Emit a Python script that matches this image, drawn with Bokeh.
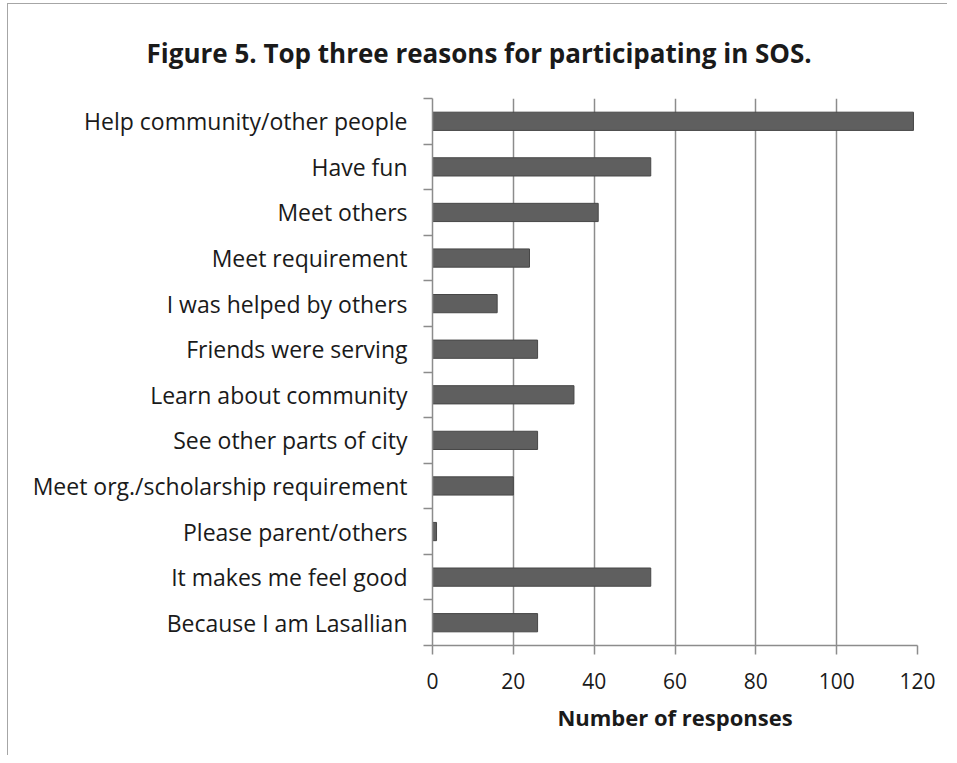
from bokeh.plotting import figure
from bokeh.models import Range1d, FixedTicker, CustomJSTickFormatter, ColumnDataSource
from bokeh.embed import file_html
from bokeh.resources import INLINE

title_text = "Figure 5. Top three reasons for participating in SOS."
reasons = [
    "Help community/other people",
    "Have fun",
    "Meet others",
    "Meet requirement",
    "I was helped by others",
    "Friends were serving",
    "Learn about community",
    "See other parts of city",
    "Meet org./scholarship requirement",
    "Please parent/others",
    "It makes me feel good",
    "Because I am Lasallian",
]
responses = [119, 54, 41, 24, 16, 26, 35, 26, 20, 1, 54, 26]
x_ticks = [0, 20, 40, 60, 80, 100, 120]

n = len(reasons)
ypos = [n - i - 0.5 for i in range(n)]
src = ColumnDataSource(dict(y=ypos, right=responses, label=reasons))

GRAY = "#8c8c8c"
TXT = "#1a1a1a"
FONT = "Open Sans"

p = figure(
    frame_width=485, frame_height=547,
    x_range=Range1d(0, 120), y_range=Range1d(0, n),
    output_backend="svg", toolbar_location=None,
    min_border_left=424, min_border_right=30,
    min_border_top=92, min_border_bottom=110,
    title=title_text,
)
p.styles = {"border-left": "1px solid #a6a6a6", "border-top": "1px solid #a6a6a6",
            "margin-left": "7px", "margin-top": "3px"}
p.outline_line_color = None
p.background_fill_color = "white"

p.title.align = "left"
p.title.offset = -286
p.title.text_font = FONT
p.title.text_font_style = "bold"
p.title.text_font_size = "26px"
p.title.text_color = TXT
p.title.standoff = 56

p.hbar(y="y", right="right", left=0, height=0.4, source=src,
       fill_color="#5f5f5f", line_color="#474747", line_width=1)

# x axis
p.xaxis.ticker = FixedTicker(ticks=x_ticks)
p.xaxis.axis_line_color = GRAY
p.xaxis.axis_line_width = 1.5
p.xaxis.major_tick_line_color = GRAY
p.xaxis.major_tick_line_width = 1.5
p.xaxis.major_tick_out = 9
p.xaxis.major_tick_in = 0
p.xaxis.minor_tick_line_color = None
p.xaxis.major_label_standoff = 18
p.xaxis.major_label_text_font = FONT
p.xaxis.major_label_text_font_size = "21px"
p.xaxis.major_label_text_color = TXT
p.xaxis.axis_label = "Number of responses"
p.xaxis.axis_label_text_font = FONT
p.xaxis.axis_label_text_font_style = "bold"
p.xaxis.axis_label_text_font_size = "22px"
p.xaxis.axis_label_text_color = TXT
p.xaxis.axis_label_standoff = 10

# y axis
p.yaxis.ticker = FixedTicker(ticks=ypos, minor_ticks=list(range(n + 1)))
p.yaxis.formatter = CustomJSTickFormatter(
    args=dict(labels=reasons),
    code="const i = Math.round(labels.length - 0.5 - tick); return labels[i] ?? '';",
)
p.yaxis.axis_line_color = GRAY
p.yaxis.axis_line_width = 1.5
p.yaxis.major_tick_line_color = None
p.yaxis.major_tick_out = 0
p.yaxis.major_tick_in = 0
p.yaxis.minor_tick_line_color = GRAY
p.yaxis.minor_tick_line_width = 1.5
p.yaxis.minor_tick_out = 9
p.yaxis.minor_tick_in = 0
p.yaxis.major_label_standoff = 16
p.yaxis.major_label_text_font = FONT
p.yaxis.major_label_text_font_size = "23px"
p.yaxis.major_label_text_color = TXT

p.xgrid.ticker = FixedTicker(ticks=x_ticks)
p.xgrid.grid_line_color = GRAY
p.xgrid.grid_line_width = 1.5
p.ygrid.grid_line_color = None

open("out.html", "w").write(file_html(p, INLINE))
